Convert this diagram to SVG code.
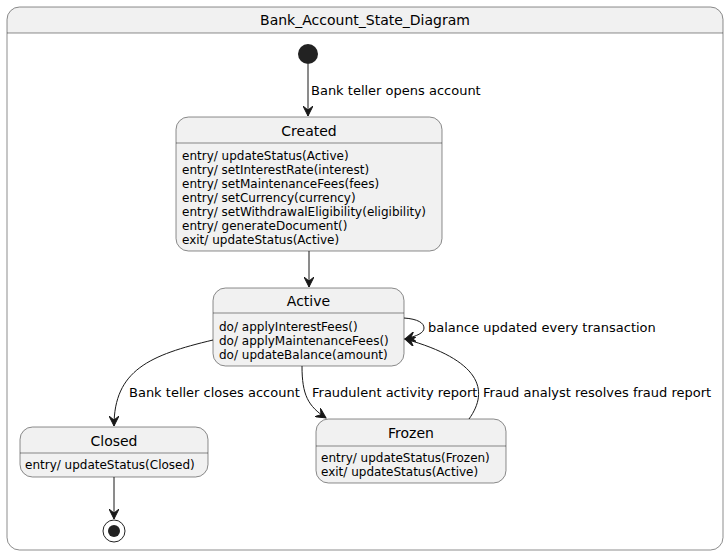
<svg xmlns="http://www.w3.org/2000/svg" width="728" height="557" viewBox="0 0 728 557">
<style>
.st{fill:#F1F1F1;stroke:#181818;stroke-width:0.5}
.sep{stroke:#181818;stroke-width:0.5}
.name{font-family:"DejaVu Sans","Liberation Sans",sans-serif;font-size:14px;fill:#000;text-anchor:middle}
.body{font-family:"DejaVu Sans","Liberation Sans",sans-serif;font-size:12px;fill:#000}
.lbl{font-family:"DejaVu Sans","Liberation Sans",sans-serif;font-size:13px;fill:#000}
.edge{fill:none;stroke:#181818;stroke-width:1}
.ah{fill:#181818;stroke:#181818;stroke-width:1}
</style>
<defs>
<marker id="arr" viewBox="0 0 12 10" refX="10" refY="5" markerWidth="12" markerHeight="10" markerUnits="userSpaceOnUse" orient="auto">
<path d="M0,0 L10,5 L0,10 L4,5 Z" class="ah"/>
</marker>
</defs>
<rect width="728" height="557" fill="#FFFFFF"/>
<g id="Bank_Account_State_Diagram">
<path d="M7,33 V19.5 A12.5,12.5 0 0 1 19.5,7 H710.5 A12.5,12.5 0 0 1 723,19.5 V33 Z" fill="#F1F1F1"/>
<rect x="7" y="7" width="716" height="543" rx="12.5" ry="12.5" fill="none" stroke="#181818" stroke-width="0.5"/>
<line x1="7" y1="33" x2="723" y2="33" class="sep"/>
<text x="365" y="25" class="name">Bank_Account_State_Diagram</text>
</g>
<g id="start">
<circle cx="308" cy="54" r="10" fill="#222222"/>
</g>
<g id="Created">
<rect x="176" y="117" width="266" height="134" rx="12.5" ry="12.5" class="st"/>
<line x1="176" y1="143" x2="442" y2="143" class="sep"/>
<text x="309" y="136" class="name">Created</text>
<text x="182" y="160" class="body">entry/ updateStatus(Active)</text>
<text x="182" y="174" class="body">entry/ setInterestRate(interest)</text>
<text x="182" y="188" class="body">entry/ setMaintenanceFees(fees)</text>
<text x="182" y="202" class="body">entry/ setCurrency(currency)</text>
<text x="182" y="216" class="body">entry/ setWithdrawalEligibility(eligibility)</text>
<text x="182" y="230" class="body">entry/ generateDocument()</text>
<text x="182" y="244" class="body">exit/ updateStatus(Active)</text>
</g>
<g id="Active">
<rect x="213" y="288" width="191" height="78" rx="12.5" ry="12.5" class="st"/>
<line x1="213" y1="313" x2="404" y2="313" class="sep"/>
<text x="308.5" y="306" class="name">Active</text>
<text x="219" y="331" class="body">do/ applyInterestFees()</text>
<text x="219" y="345" class="body">do/ applyMaintenanceFees()</text>
<text x="219" y="359" class="body">do/ updateBalance(amount)</text>
</g>
<g id="Closed">
<rect x="20" y="427" width="188" height="50" rx="12.5" ry="12.5" class="st"/>
<line x1="20" y1="453" x2="208" y2="453" class="sep"/>
<text x="114" y="446" class="name">Closed</text>
<text x="25" y="469" class="body">entry/ updateStatus(Closed)</text>
</g>
<g id="Frozen">
<rect x="316" y="419" width="190" height="64" rx="12.5" ry="12.5" class="st"/>
<line x1="316" y1="446" x2="506" y2="446" class="sep"/>
<text x="411" y="438" class="name">Frozen</text>
<text x="321" y="462" class="body">entry/ updateStatus(Frozen)</text>
<text x="321" y="476" class="body">exit/ updateStatus(Active)</text>
</g>
<g id="end">
<circle cx="114" cy="531" r="11" fill="none" stroke="#222222" stroke-width="1"/>
<circle cx="114" cy="531" r="6" fill="#222222"/>
</g>
<g id="connectors">
<path d="M308,64 L308,116" class="edge" marker-end="url(#arr)"/>
<text x="311" y="95" class="lbl">Bank teller opens account</text>
<path d="M309,251 L309,287" class="edge" marker-end="url(#arr)"/>
<path d="M404,318 C418,319 424,323 424,328 C424,333 417,336 405,339" class="edge" marker-end="url(#arr)"/>
<text x="428" y="332" class="lbl">balance updated every transaction</text>
<path d="M213,340 C150,355 114,370 114,426" class="edge" marker-end="url(#arr)"/>
<text x="129" y="397" class="lbl">Bank teller closes account</text>
<path d="M302,366 C302,395 308,406 326,418" class="edge" marker-end="url(#arr)"/>
<text x="312" y="397" class="lbl">Fraudulent activity report</text>
<path d="M469,419 C490,390 480,360 405,339" class="edge" marker-end="url(#arr)"/>
<text x="483" y="397" class="lbl">Fraud analyst resolves fraud report</text>
<path d="M114,477 L114,519" class="edge" marker-end="url(#arr)"/>
</g>
</svg>
